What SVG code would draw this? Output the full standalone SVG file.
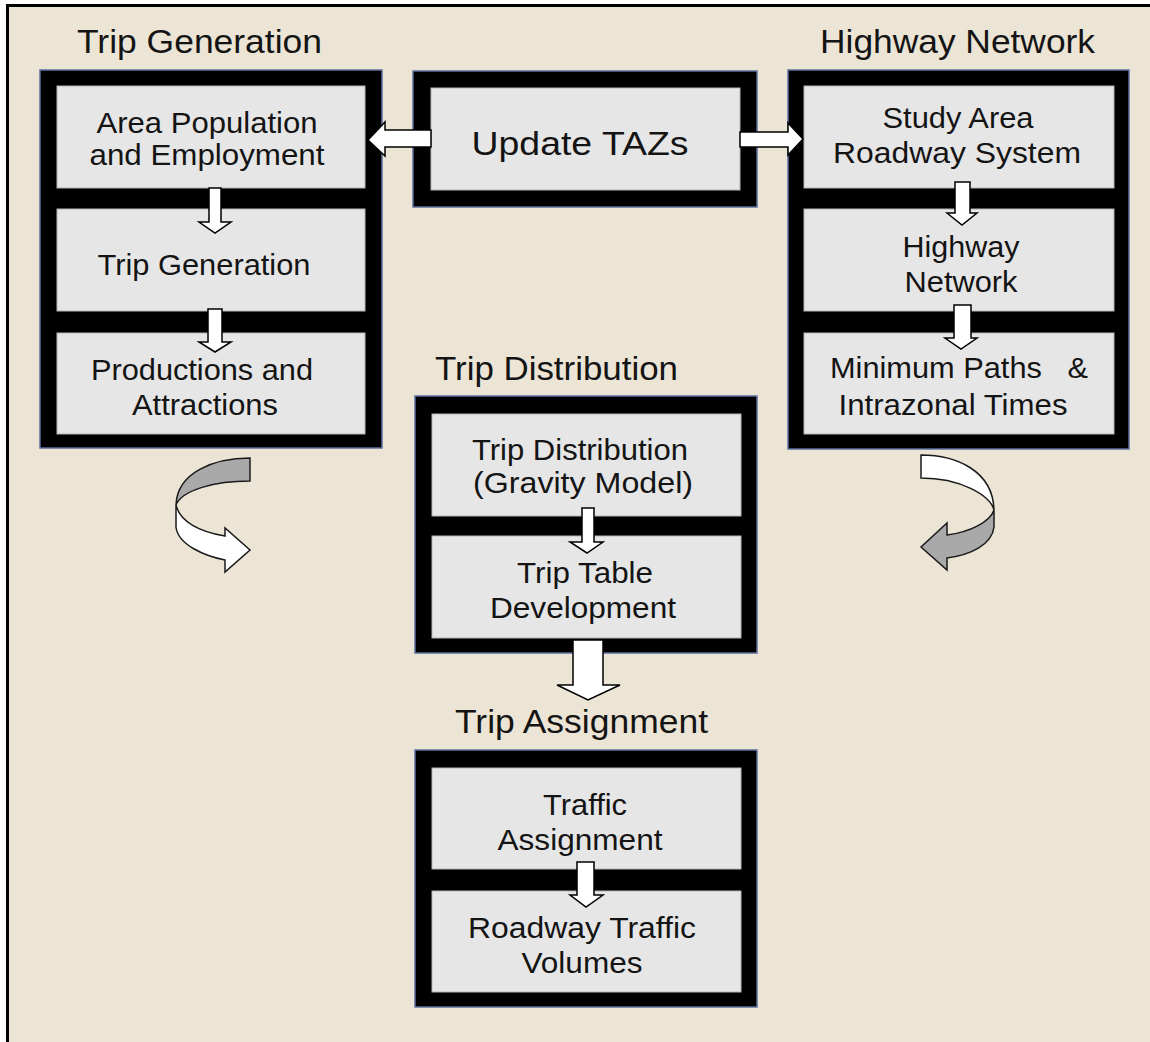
<svg xmlns="http://www.w3.org/2000/svg" width="1150" height="1042" viewBox="0 0 1150 1042">
<style>
.frame{fill:#000;stroke:#5b6f9c;stroke-width:1.5}
.inner{fill:#e6e6e6;stroke:#b5b5b5;stroke-width:1}
.t{font-family:"Liberation Sans",Arial,sans-serif;font-size:29px;fill:#141414;text-anchor:middle}
.h{font-family:"Liberation Sans",Arial,sans-serif;font-size:34px;fill:#141414}
.arr{fill:#fff;stroke:#000;stroke-width:1.5;stroke-linejoin:miter}
.grey{fill:#a9a9a9;stroke:#1a1a1a;stroke-width:1.5}
.white{fill:#fff;stroke:#1a1a1a;stroke-width:1.5}
</style>
<rect x="0" y="0" width="1150" height="1042" fill="#ffffff"/>
<rect x="8" y="6" width="1142" height="1036" fill="#ece5d6"/>
<path d="M7.5,1042 V5.5 H1150" fill="none" stroke="#000" stroke-width="3"/>

<g id="trip-generation">
<text class="h" x="77" y="53" textLength="245" lengthAdjust="spacingAndGlyphs">Trip Generation</text>
<rect class="frame" x="40" y="70" width="342" height="378"/>
<g id="area-population">
<rect class="inner" x="57" y="86" width="308" height="102"/>
<text class="t" x="207" y="133" textLength="221" lengthAdjust="spacingAndGlyphs">Area Population</text>
<text class="t" x="207" y="165" textLength="235" lengthAdjust="spacingAndGlyphs">and Employment</text>
</g>
<g id="trip-generation-step">
<rect class="inner" x="57" y="209" width="308" height="102"/>
<text class="t" x="204" y="275" textLength="213" lengthAdjust="spacingAndGlyphs">Trip Generation</text>
</g>
<g id="productions">
<rect class="inner" x="57" y="333" width="308" height="101"/>
<text class="t" x="202" y="380" textLength="222" lengthAdjust="spacingAndGlyphs">Productions and</text>
<text class="t" x="205" y="415" textLength="146" lengthAdjust="spacingAndGlyphs">Attractions</text>
</g>
</g>

<g id="update-tazs">
<rect class="frame" x="413" y="71" width="344" height="136"/>
<rect class="inner" x="431" y="88" width="309" height="102"/>
<text class="t" x="580" y="155" style="font-size:34px" textLength="217" lengthAdjust="spacingAndGlyphs">Update TAZs</text>
</g>

<g id="highway-network">
<text class="h" x="820" y="53" textLength="275" lengthAdjust="spacingAndGlyphs">Highway Network</text>
<rect class="frame" x="788" y="70" width="341" height="379"/>
<g id="study-area">
<rect class="inner" x="804" y="86" width="310" height="102"/>
<text class="t" x="958" y="128" textLength="151" lengthAdjust="spacingAndGlyphs">Study Area</text>
<text class="t" x="957" y="163" textLength="248" lengthAdjust="spacingAndGlyphs">Roadway System</text>
</g>
<g id="highway-network-step">
<rect class="inner" x="804" y="209" width="310" height="102"/>
<text class="t" x="961" y="257" textLength="117" lengthAdjust="spacingAndGlyphs">Highway</text>
<text class="t" x="961" y="292" textLength="113" lengthAdjust="spacingAndGlyphs">Network</text>
</g>
<g id="minimum-paths">
<rect class="inner" x="804" y="333" width="310" height="101"/>
<text class="t" x="959" y="378" textLength="258" lengthAdjust="spacingAndGlyphs" xml:space="preserve">Minimum Paths   &amp;</text>
<text class="t" x="953" y="415" textLength="229" lengthAdjust="spacingAndGlyphs">Intrazonal Times</text>
</g>
</g>

<g id="trip-distribution">
<text class="h" x="435" y="380" textLength="243" lengthAdjust="spacingAndGlyphs">Trip Distribution</text>
<rect class="frame" x="415" y="396" width="342" height="257"/>
<g id="gravity-model">
<rect class="inner" x="432" y="414" width="309" height="102"/>
<text class="t" x="580" y="460" textLength="216" lengthAdjust="spacingAndGlyphs">Trip Distribution</text>
<text class="t" x="583" y="493" textLength="220" lengthAdjust="spacingAndGlyphs">(Gravity Model)</text>
</g>
<g id="trip-table">
<rect class="inner" x="432" y="536" width="309" height="102"/>
<text class="t" x="585" y="583" textLength="136" lengthAdjust="spacingAndGlyphs">Trip Table</text>
<text class="t" x="583" y="618" textLength="186" lengthAdjust="spacingAndGlyphs">Development</text>
</g>
</g>

<g id="trip-assignment">
<text class="h" x="455" y="733" textLength="253" lengthAdjust="spacingAndGlyphs">Trip Assignment</text>
<rect class="frame" x="415" y="750" width="342" height="257"/>
<g id="traffic-assignment">
<rect class="inner" x="432" y="768" width="309" height="101"/>
<text class="t" x="585" y="815" textLength="84" lengthAdjust="spacingAndGlyphs">Traffic</text>
<text class="t" x="580" y="850" textLength="165" lengthAdjust="spacingAndGlyphs">Assignment</text>
</g>
<g id="roadway-volumes">
<rect class="inner" x="432" y="891" width="309" height="101"/>
<text class="t" x="582" y="938" textLength="228" lengthAdjust="spacingAndGlyphs">Roadway Traffic</text>
<text class="t" x="582" y="973" textLength="121" lengthAdjust="spacingAndGlyphs">Volumes</text>
</g>
</g>

<g id="connectors">
<polygon class="arr" points="431,130 385,130 385,122 368,140 385,156 385,147 431,147"/>
<polygon class="arr" points="740,132 788,132 788,123 803,139 788,155 788,147 740,147"/>
<polygon class="arr" points="209,188 221,188 221,222 231,222 215,233 199,222 209,222"/>
<polygon class="arr" points="208,309 222,309 222,342 231,342 215,352 199,342 208,342"/>
<polygon class="arr" points="955,182 970,182 970,213 977,213 962,225 947,213 955,213"/>
<polygon class="arr" points="954,305 971,305 971,338 977,338 961,349 945,338 954,338"/>
<polygon class="arr" points="582,508 594,508 594,542 603,542 587,553 570,542 582,542"/>
<polygon class="arr" points="573,640 603,640 603,685 620,685 588,700 557,685 573,685"/>
<polygon class="arr" points="577,862 594,862 594,895 603,895 586,907 570,895 577,895"/>
<g id="curved-left">
<path class="grey" d="M250,458 C215,458 177,472 176,505 C182,490 215,481 250,481 Z"/>
<path class="white" d="M176,505 L176,527 C178,545 205,556 225,560 L225,572 L250,550 L225,528 L225,536 C200,532 180,522 176,505 Z"/>
</g>
<g id="curved-right">
<path class="white" d="M921,455 C955,455 993,470 994,510 C990,495 960,478 921,478 Z"/>
<path class="grey" d="M994,510 L994,527 C992,545 970,555 947,558 L947,570 L921,547 L947,523 L947,535 C970,532 990,522 994,510 Z"/>
</g>
</g>
</svg>
